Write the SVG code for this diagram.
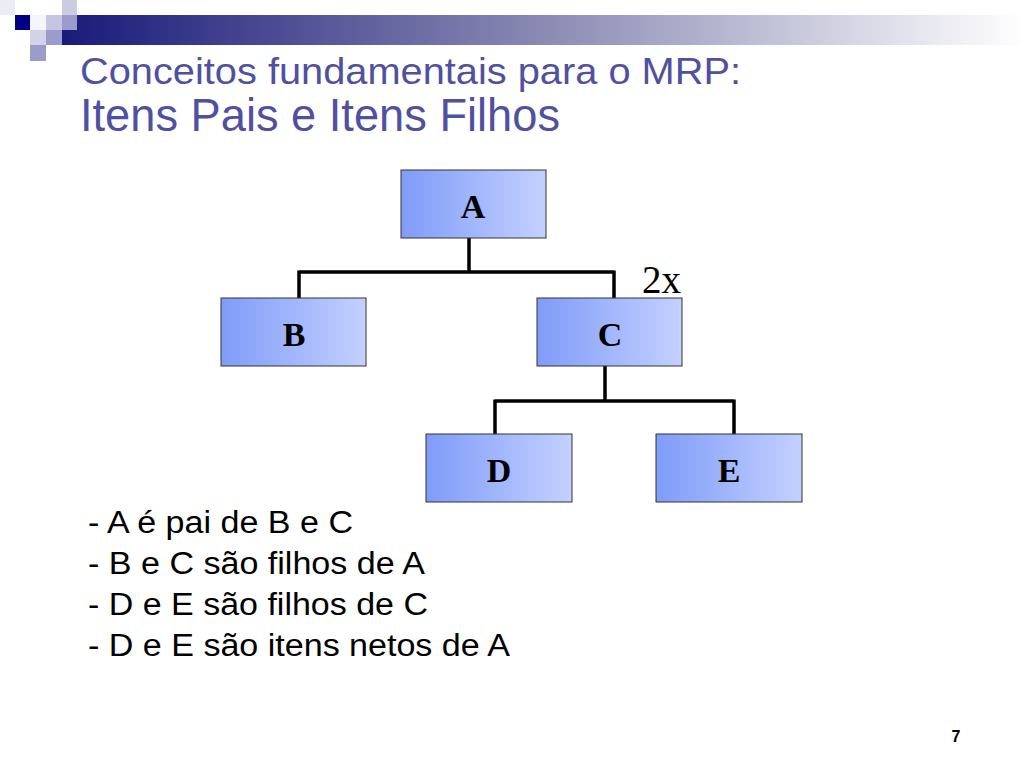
<svg xmlns="http://www.w3.org/2000/svg" width="1024" height="768" viewBox="0 0 1024 768">
<defs>
<linearGradient id="bar" x1="0" y1="0" x2="1" y2="0">
<stop offset="0" stop-color="#1a1a7a"/>
<stop offset="0.5" stop-color="#8a8ab4"/>
<stop offset="1" stop-color="#ffffff"/>
</linearGradient>
<linearGradient id="box" x1="0" y1="0" x2="1" y2="0">
<stop offset="0" stop-color="#7f9cf8"/>
<stop offset="1" stop-color="#c4d0ff"/>
</linearGradient>
<style>
.node rect{fill:url(#box);stroke:#333;stroke-width:1}
.node text{font-family:"Liberation Sans",serif;font-family:"Liberation Serif",serif;font-weight:bold;font-size:34px;text-anchor:middle;fill:#000}
.conn{fill:none;stroke:#000;stroke-width:3.5}
.title{font-family:"Liberation Sans",Arial,sans-serif;fill:#5050a0}
.body{font-family:"Liberation Sans",Arial,sans-serif;font-size:31px;fill:#000}
</style>
</defs>
<rect width="1024" height="768" fill="#fff"/>
<g id="logo">
<rect x="62" y="15" width="962" height="30" fill="url(#bar)"/>
<rect x="0" y="0" width="15" height="15" fill="#ececf4"/>
<rect x="62" y="0" width="15" height="15" fill="#cbcbe2"/>
<rect x="15" y="15" width="15" height="15" fill="#000080"/>
<rect x="30" y="15" width="16" height="15" fill="#f4f4fa"/>
<rect x="46" y="15" width="16" height="15" fill="#c6c6e2"/>
<rect x="62" y="15" width="15" height="15" fill="#9c9ccc"/>
<rect x="30" y="30" width="16" height="15" fill="#d2d2e8"/>
<rect x="46" y="30" width="16" height="15" fill="#9c9ccc"/>
<rect x="30" y="45" width="16" height="16" fill="#9c9ccc"/>
</g>
<text class="title" x="80" y="84" font-size="37.5" textLength="661" lengthAdjust="spacingAndGlyphs">Conceitos fundamentais para o MRP:</text>
<text class="title" x="80" y="131" font-size="45.3" textLength="480" lengthAdjust="spacingAndGlyphs">Itens Pais e Itens Filhos</text>
<g id="connectors">
<path class="conn" d="M469 238V272M299 272H614M299 270.5V298M614 270.5V298"/>
<path class="conn" d="M605 366V401M495 401H734M495 399.5V434M734 399.5V434"/>
</g>
<g id="nodeA" class="node"><rect x="401" y="170" width="145" height="68"/><text x="473" y="218">A</text></g>
<g id="nodeB" class="node"><rect x="221" y="298" width="145" height="68"/><text x="294" y="346">B</text></g>
<g id="nodeC" class="node"><rect x="537" y="298" width="145" height="68"/><text x="610" y="346">C</text></g>
<g id="nodeD" class="node"><rect x="426" y="434" width="146" height="68"/><text x="499" y="482">D</text></g>
<g id="nodeE" class="node"><rect x="656" y="434" width="146" height="68"/><text x="729" y="482">E</text></g>
<text x="642" y="293" font-family="Liberation Serif,serif" font-size="39" fill="#000">2x</text>
<text class="body" x="88" y="533" textLength="265" lengthAdjust="spacingAndGlyphs">- A é pai de B e C</text>
<text class="body" x="88" y="574" textLength="337" lengthAdjust="spacingAndGlyphs">- B e C são filhos de A</text>
<text class="body" x="88" y="615" textLength="340" lengthAdjust="spacingAndGlyphs">- D e E são filhos de C</text>
<text class="body" x="88" y="656" textLength="422" lengthAdjust="spacingAndGlyphs">- D e E são itens netos de A</text>
<text x="956" y="742" font-family="Liberation Sans,Arial,sans-serif" font-weight="bold" font-size="16" text-anchor="middle" fill="#000">7</text>
</svg>
